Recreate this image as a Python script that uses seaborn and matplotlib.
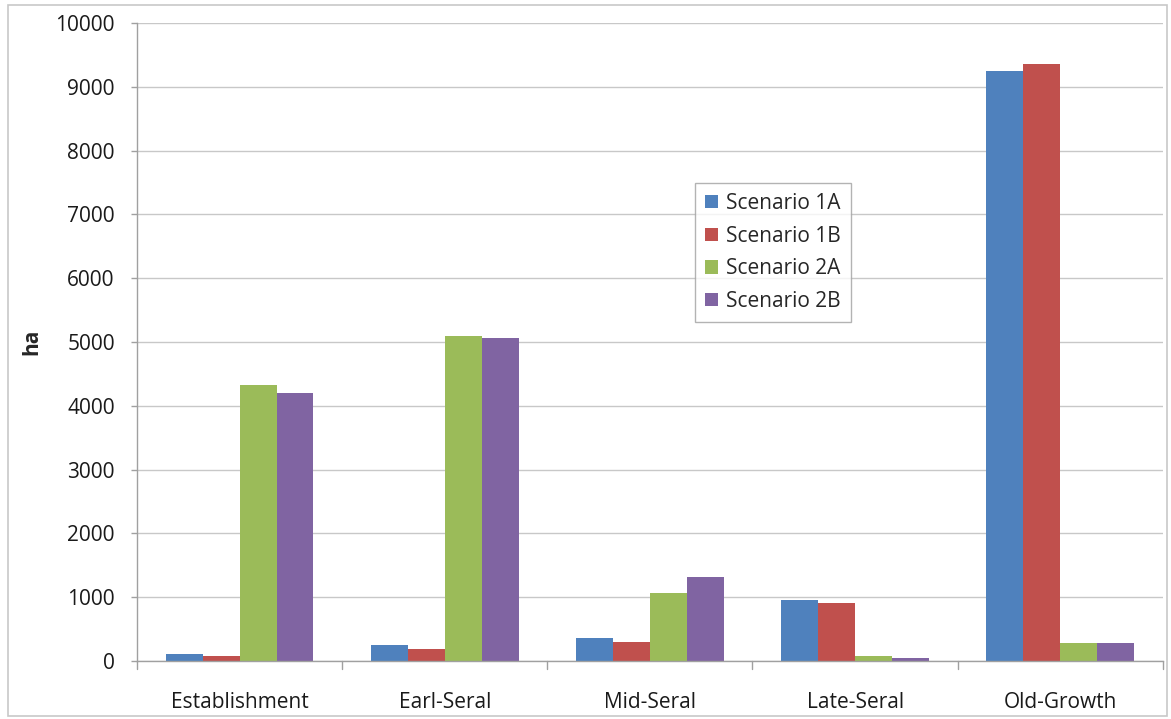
import matplotlib
matplotlib.use("Agg")
import matplotlib.pyplot as plt
import seaborn as sns
import pandas as pd
from matplotlib.patches import Rectangle

categories = ["Establishment", "Earl-Seral", "Mid-Seral", "Late-Seral", "Old-Growth"]
scenarios = ["Scenario 1A", "Scenario 1B", "Scenario 2A", "Scenario 2B"]
scenario_1a = [105, 251, 361, 953, 9246]
scenario_1b = [83, 193, 293, 910, 9363]
scenario_2a = [4330, 5100, 1063, 83, 278]
scenario_2b = [4200, 5070, 1314, 47, 275]
yticks = [0, 1000, 2000, 3000, 4000, 5000, 6000, 7000, 8000, 9000, 10000]
colors = ["#4F81BD", "#C0504D", "#9BBB59", "#8064A2"]

rows = []
for name, vals in zip(scenarios, [scenario_1a, scenario_1b, scenario_2a, scenario_2b]):
    for cat, v in zip(categories, vals):
        rows.append({"stage": cat, "scenario": name, "ha": v})
df = pd.DataFrame(rows)

sns.set_theme(style="white")
plt.rcParams["font.family"] = ["Open Sans", "DejaVu Sans"]

fig = plt.figure(figsize=(11.71, 7.19), dpi=100)
ax = fig.add_axes([0.117, 0.0807, 0.876, 0.8873])

sns.barplot(data=df, x="stage", y="ha", hue="scenario", order=categories,
            hue_order=scenarios, palette=colors, width=0.72, gap=0,
            saturation=1, edgecolor="none", linewidth=0, ax=ax, errorbar=None)

ax.set_ylim(0, 10000)
ax.set_xlim(-0.5, len(categories) - 0.5)
ax.set_yticks(yticks)
ax.set_yticklabels([str(t) for t in yticks], fontsize=15, color="#1a1a1a")
ax.yaxis.grid(True, color="#c8c8c8", linewidth=1)
ax.set_axisbelow(True)

# category ticks sit at the group boundaries
ax.set_xticks(range(len(categories)))
ax.set_xticklabels(categories, fontsize=15, color="#1a1a1a")
ax.tick_params(axis="x", length=0, pad=22)
ax.tick_params(axis="y", length=4, color="#a0a0a0", width=1, direction="out", left=True, pad=12)
for b in [x + 0.5 for x in range(-1, len(categories))]:
    ax.plot([b, b], [0, -0.012], transform=ax.get_xaxis_transform(),
            color="#a0a0a0", linewidth=1, clip_on=False)

for side in ["top", "right"]:
    ax.spines[side].set_visible(False)
for side in ["left", "bottom"]:
    ax.spines[side].set_color("#a0a0a0")
    ax.spines[side].set_linewidth(1)

ax.set_xlabel("")
ax.set_ylabel("ha", fontsize=15, fontweight="bold", labelpad=9)

leg = ax.legend(loc="upper left", bbox_to_anchor=(0.544, 0.75), fontsize=15,
                frameon=True, fancybox=False, edgecolor="#a0a0a0",
                handlelength=0.6, handleheight=0.6, handletextpad=0.4,
                borderpad=0.5, labelspacing=0.56, borderaxespad=0)
leg.get_frame().set_linewidth(1)

fig.patches.append(Rectangle((0.007, 0.004), 0.99, 0.989, transform=fig.transFigure,
                             fill=False, edgecolor="#c8c8c8", linewidth=1.2))

fig.savefig("out.png", dpi=100, facecolor="white")
